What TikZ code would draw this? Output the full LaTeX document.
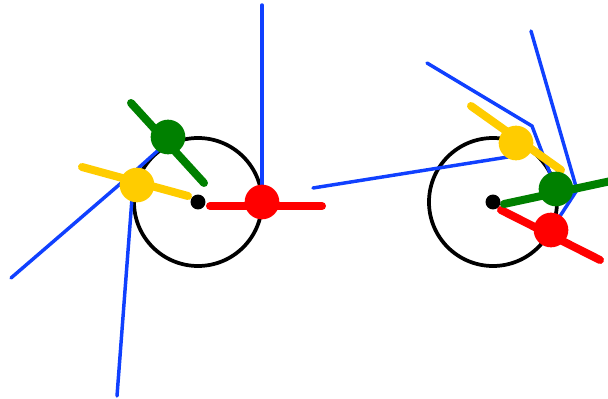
\documentclass[tikz,border=0pt]{standalone}
\definecolor{linkblue}{RGB}{16,64,255}
\definecolor{jointgreen}{RGB}{0,128,0}
\definecolor{jointyellow}{RGB}{255,204,0}
\definecolor{jointred}{RGB}{255,0,0}
\begin{document}
\begin{tikzpicture}[x=0.75pt, y=-0.75pt,
    link/.style={line width=2.6pt, linkblue, line cap=round},
    axle/.style={line width=6pt, line cap=round},
    rim/.style={line width=2.8pt, black}]
    \useasboundingbox (0,0) rectangle (608,399);
    \clip (0,0) rectangle (608,399);
    % left wheel
    \coordinate (LO) at (198,202);
    \coordinate (LR) at (262,202);
    \coordinate (LG) at (168,137);
    \coordinate (LY) at (137,185);
    \coordinate (Ltop) at (262,5);
    \coordinate (Lbase) at (11,278);
    \coordinate (Lfoot) at (117,396);
    \coordinate (Lknee) at (134,172);
    \coordinate (Lend) at (163,146);
    % right wheel
    \coordinate (RO) at (493,202);
    \coordinate (RY) at (516,143);
    \coordinate (RG) at (556,189);
    \coordinate (RR) at (551,230);
    \coordinate (Rtail) at (313,188);
    \coordinate (Rend) at (508,157);
    \coordinate (Rbase) at (427,63);
    \coordinate (Relbow) at (532,126);
    \coordinate (Rtop) at (531,31);
    \coordinate (Rknee) at (577,190);
    \draw[rim] (LO) circle (48pt);
    \draw[rim] (RO) circle (48pt);
    % links
    \draw[link] (Ltop) -- (LR);
    \draw[link] (Lbase) -- (Lknee) -- (Lend);
    \draw[link] (Lfoot) -- (Lknee);
    \draw[link] (Rtail) -- (Rend);
    \draw[link] (Rbase) -- (Relbow) -- (RG) -- (Rknee);
    \draw[link] (Rtop) -- (Rknee) -- (RR);
    % axles
    \draw[axle, jointred] (210,206) -- (322,206);
    \draw[axle, jointgreen] (131,103) -- (204,183);
    \draw[axle, jointyellow] (82,167) -- (188,196);
    \draw[axle, jointyellow] (471,106) -- (561,170);
    \draw[axle, jointred] (501,210) -- (600,260);
    \draw[axle, jointgreen] (504,204) -- (625,178);
    % joints
    \fill[jointred] (LR) circle (13pt);
    \fill[jointgreen] (LG) circle (13pt);
    \fill[jointyellow] (LY) circle (13pt);
    \fill[jointyellow] (RY) circle (13pt);
    \fill[jointgreen] (RG) circle (13pt);
    \fill[jointred] (RR) circle (13pt);
    \fill (LO) circle (5.6pt);
    \fill (RO) circle (5.6pt);
\end{tikzpicture}
\end{document}
